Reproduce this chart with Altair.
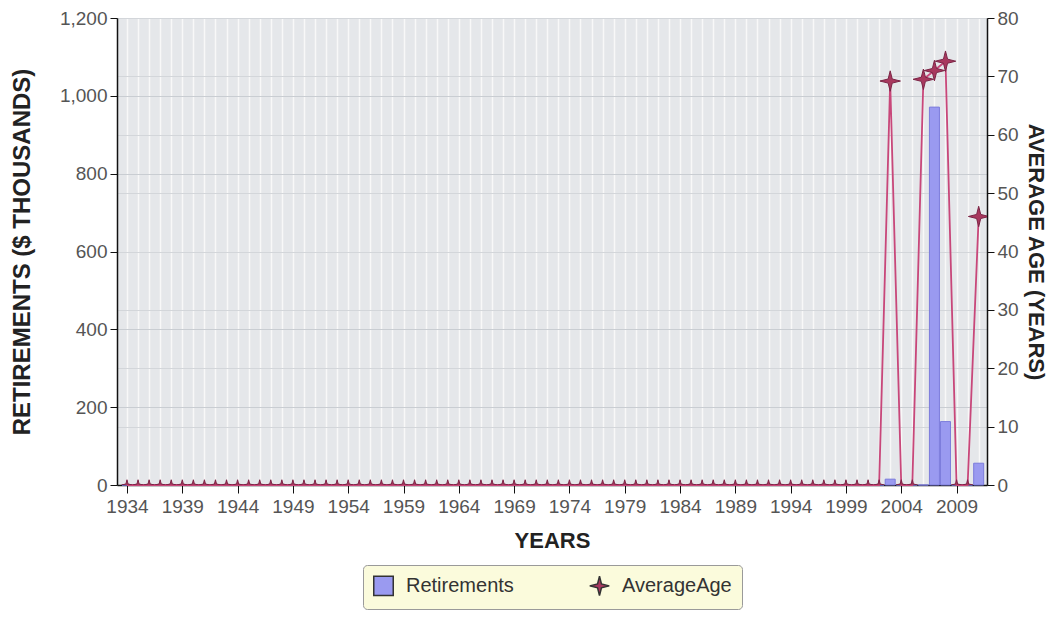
import altair as alt
import pandas as pd

years = [1934, 1935, 1936, 1937, 1938, 1939, 1940, 1941, 1942, 1943,
         1944, 1945, 1946, 1947, 1948, 1949, 1950, 1951, 1952, 1953,
         1954, 1955, 1956, 1957, 1958, 1959, 1960, 1961, 1962, 1963,
         1964, 1965, 1966, 1967, 1968, 1969, 1970, 1971, 1972, 1973,
         1974, 1975, 1976, 1977, 1978, 1979, 1980, 1981, 1982, 1983,
         1984, 1985, 1986, 1987, 1988, 1989, 1990, 1991, 1992, 1993,
         1994, 1995, 1996, 1997, 1998, 1999, 2000, 2001, 2002, 2003,
         2004, 2005, 2006, 2007, 2008, 2009, 2010, 2011]

# Retirements ($ thousands)
retirements = [0, 0, 0, 0, 0, 0, 0, 0, 0, 0,
               0, 0, 0, 0, 0, 0, 0, 0, 0, 0,
               0, 0, 0, 0, 0, 0, 0, 0, 0, 0,
               0, 0, 0, 0, 0, 0, 0, 0, 0, 0,
               0, 0, 0, 0, 0, 0, 0, 0, 0, 0,
               0, 0, 0, 0, 0, 0, 0, 0, 0, 0,
               0, 0, 0, 0, 0, 0, 0, 0, 0, 15,
               0, 0, 0, 971, 163, 0, 0, 56]

# Average age (years)
average_age = [0, 0, 0, 0, 0, 0, 0, 0, 0, 0,
               0, 0, 0, 0, 0, 0, 0, 0, 0, 0,
               0, 0, 0, 0, 0, 0, 0, 0, 0, 0,
               0, 0, 0, 0, 0, 0, 0, 0, 0, 0,
               0, 0, 0, 0, 0, 0, 0, 0, 0, 0,
               0, 0, 0, 0, 0, 0, 0, 0, 0, 0,
               0, 0, 0, 0, 0, 0, 0, 0, 0, 69.2,
               0, 0, 69.5, 71.0, 72.6, 0, 0, 46.0]

series_names = ["Retirements", "AverageAge"]
left_ticks = [0, 200, 400, 600, 800, 1000, 1200]
right_ticks = [0, 10, 20, 30, 40, 50, 60, 70, 80]

df_bar = pd.DataFrame({"year": years, "value": retirements, "series": series_names[0]})
df_age = pd.DataFrame({"year": years, "age": average_age, "series": series_names[1]})

FONT = "Liberation Sans"
STAR = "M0,-1 L0.2,-0.2 L1,0 L0.2,0.2 L0,1 L-0.2,0.2 L-1,0 L-0.2,-0.2 Z"

xscale = alt.Scale(domain=[1933.55, 2011.3], nice=False, zero=False)
xaxis = alt.Axis(
    title="YEARS", values=years, format="d",
    labelExpr="(datum.value - 1934) % 5 == 0 ? datum.label : ''",
    labelOverlap=False, labelFontSize=19, labelColor="#555555", labelPadding=4,
    labelFlush=False, labelBound=False,
    tickSize=8, tickColor={"condition": {"test": "(datum.value - 1934) % 5 == 0", "value": "#111111"}, "value": "transparent"},
    domainColor="#111111", domainWidth=1.5,
    grid=True, gridColor="#fafafa", gridWidth=1.5, gridOpacity=0.9,
    titleFontSize=22, titleFontWeight="bold", titleColor="#222222", titlePadding=14,
)

left_axis = alt.Axis(title="RETIREMENTS ($ THOUSANDS)", values=left_ticks, format=",d",
                     orient="left", labelFontSize=19, labelColor="#555555", labelPadding=3,
                     tickSize=7, tickColor="#111111", domainColor="#111111", domainWidth=1.5,
                     grid=True, gridColor="#c9cdd2", gridWidth=1,
                     titleFontSize=24, titleFontWeight="bold", titleColor="#222222",
                     titlePadding=25)
right_axis = alt.Axis(title="AVERAGE AGE (YEARS)", values=right_ticks, format="d", orient="right",
                      labelFontSize=19, labelColor="#555555", labelPadding=3,
                      tickSize=7, tickColor="#111111", domainColor="#111111", domainWidth=1.5,
                      grid=True, gridColor="#d3d6da", gridWidth=1,
                      titleFontSize=22, titleFontWeight="bold", titleColor="#222222",
                      titlePadding=5)

color_scale = alt.Scale(domain=series_names, range=["#9a9af0", "#a8385e"])
shape_scale = alt.Scale(domain=series_names, range=["square", STAR])
legend = alt.Legend(
    title=None, orient="none", direction="horizontal", legendX=246, legendY=547,
    fillColor="#fbfbdc", strokeColor="#9a9a9a", cornerRadius=4, padding=10,
    labelFontSize=20, labelColor="#333333", labelFont=FONT,
    symbolSize=380, symbolStrokeColor="#333333", symbolStrokeWidth=1.5,
    columnPadding=72, labelOffset=12,
)

bars = alt.Chart(df_bar).mark_bar(size=10, stroke="#7c7cdc", strokeWidth=1).encode(
    x=alt.X("year:Q", scale=xscale, axis=xaxis),
    y=alt.Y("value:Q", scale=alt.Scale(domain=[0, 1200], nice=False), axis=left_axis),
    color=alt.Color("series:N", scale=color_scale, legend=legend),
)

line = alt.Chart(df_age).mark_line(color="#c8477a", strokeWidth=1.8).encode(
    x=alt.X("year:Q", scale=xscale, axis=xaxis),
    y=alt.Y("age:Q", scale=alt.Scale(domain=[0, 80], nice=False), axis=right_axis),
)

points = alt.Chart(df_age).mark_point(filled=True, stroke="#7b2445", strokeWidth=1, opacity=1, clip=True).encode(
    x=alt.X("year:Q", scale=xscale, axis=xaxis),
    y=alt.Y("age:Q", scale=alt.Scale(domain=[0, 80], nice=False), axis=right_axis),
    color=alt.Color("series:N", scale=color_scale, legend=legend),
    shape=alt.Shape("series:N", scale=shape_scale, legend=legend),
    size=alt.condition("datum.age > 0", alt.value(420), alt.value(110)),
)

chart = alt.layer(bars, alt.layer(line, points)).resolve_scale(y="independent").properties(
    width=870, height=467,
    autosize=alt.AutoSizeParams(type="none"),
    padding={"left": 109, "top": 10, "right": 62, "bottom": 129},
    background="white",
).configure(font=FONT).configure_view(
    fill="#e5e7ea", stroke="#8f8f8f", strokeWidth=1,
)

chart.save("out.html", embed_options={"renderer": "svg", "actions": False})
